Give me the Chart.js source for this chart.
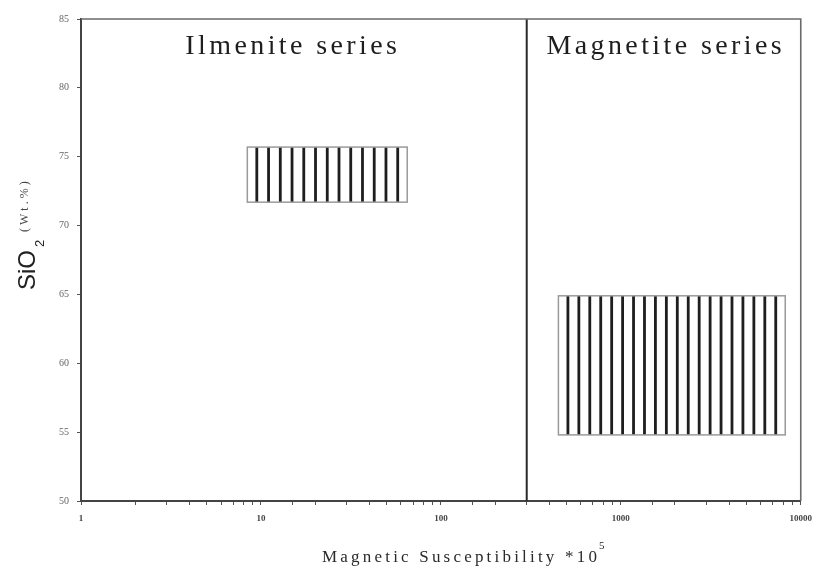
<!DOCTYPE html>
<html>
<head>
<meta charset="utf-8">
<script src="https://cdn.jsdelivr.net/npm/chart.js@4"></script>
<style>
  html, body { margin: 0; padding: 0; background: #fff; }
  #wrap { width: 820px; height: 570px; }
</style>
</head>
<body>
<div id="wrap"><canvas id="chart"></canvas></div>
<script>
// Серії та межа між ними
const seriesNames = ["Ilmenite series", "Magnetite series"];
const boundaryX = 300;

// Поля даних: межі прямокутників (x — логарифмічна вісь, y — SiO2)
const boxX0 = [8.4, 450];
const boxX1 = [65, 8200];
const boxY0 = [71.7, 54.8];
const boxY1 = [75.7, 64.9];

// Осі
const xRange = [1, 10000];
const yRange = [50, 85];
const yStep = 5;
const xTickLabels = [1, 10, 100, 1000, 10000];

const serif = "'Liberation Serif', 'Times New Roman', serif";

// Прямокутники з вертикальним штрихуванням
const hatchBoxes = {
    id: "hatchBoxes",
    beforeDatasetsDraw(chart, args, opts) {
        const ctx = chart.ctx;
        const xs = chart.scales.x, ys = chart.scales.y;
        boxX0.forEach((v, i) => {
            const left = xs.getPixelForValue(boxX0[i]);
            const right = xs.getPixelForValue(boxX1[i]);
            const top = ys.getPixelForValue(boxY1[i]);
            const bottom = ys.getPixelForValue(boxY0[i]);
            ctx.save();
            // штрихування
            const n = opts.hatchCount[i];
            const step = (right - left - 2 * opts.inset) / (n - 1);
            ctx.strokeStyle = "#1e1e1e";
            ctx.lineWidth = 2.8;
            ctx.beginPath();
            for (let k = 0; k < n; k++) {
                const x = left + opts.inset + k * step;
                ctx.moveTo(x, top);
                ctx.lineTo(x, bottom);
            }
            ctx.stroke();
            // рамка
            ctx.strokeStyle = "#9a9a9a";
            ctx.lineWidth = 1.5;
            ctx.strokeRect(left, top, right - left, bottom - top);
            ctx.restore();
        });
    }
};

// Рамка, підписи серій та назви осей
const decorations = {
    id: "decorations",
    afterDraw(chart) {
        const ctx = chart.ctx;
        const a = chart.chartArea;
        const xs = chart.scales.x;
        ctx.save();
        ctx.strokeStyle = "#6a6a6a";
        ctx.lineWidth = 1.6;
        ctx.beginPath();
        ctx.moveTo(a.left, a.top);
        ctx.lineTo(a.right, a.top);
        ctx.lineTo(a.right, a.bottom);
        ctx.stroke();

        // назви серій
        const bx = xs.getPixelForValue(boundaryX);
        ctx.fillStyle = "#1e1e1e";
        ctx.font = "28px " + serif;
        ctx.letterSpacing = "3.4px";
        ctx.textAlign = "center";
        ctx.textBaseline = "alphabetic";
        ctx.fillText(seriesNames[0], (a.left + bx) / 2 - 11, 54);
        ctx.fillText(seriesNames[1], (bx + a.right) / 2 + 2, 54);

        // підпис осі x
        ctx.font = "17px " + serif;
        ctx.letterSpacing = "3.2px";
        ctx.textAlign = "left";
        ctx.fillStyle = "#2a2a2a";
        ctx.fillText("Magnetic Susceptibility *10", 322, 562);
        ctx.font = "11px " + serif;
        ctx.letterSpacing = "0px";
        ctx.fillText("5", 599, 549);

        // підпис осі y (повернутий)
        ctx.translate(35, 290);
        ctx.rotate(-Math.PI / 2);
        ctx.fillStyle = "#222";
        ctx.font = "24px 'Liberation Sans', Arial, sans-serif";
        ctx.letterSpacing = "0px";
        ctx.fillText("SiO", 0, 0);
        ctx.font = "13px 'Liberation Sans', Arial, sans-serif";
        ctx.fillText("2", 43, 9);
        ctx.font = "12px " + serif;
        ctx.letterSpacing = "3px";
        ctx.fillStyle = "#444";
        ctx.fillText("(Wt.%)", 58, -7);
        ctx.restore();
    }
};

const ctx = document.getElementById("chart").getContext("2d");
new Chart(ctx, {
    type: "scatter",
    data: {
        datasets: [{
            // межа між серіями
            data: [{ x: boundaryX, y: yRange[0] }, { x: boundaryX, y: yRange[1] }],
            showLine: true,
            borderColor: "#2a2a2a",
            borderWidth: 2,
            pointRadius: 0
        }]
    },
    options: {
        responsive: true,
        maintainAspectRatio: false,
        animation: false,
        layout: { padding: { top: 19, right: 19, left: 0, bottom: 0 } },
        plugins: {
            legend: { display: false },
            tooltip: { enabled: false },
            hatchBoxes: { hatchCount: [13, 20], inset: 9.5 }
        },
        scales: {
            x: {
                type: "logarithmic",
                min: xRange[0],
                max: xRange[1],
                afterFit(scale) { scale.height = 69; },
                border: { display: true, color: "#444", width: 2 },
                grid: { drawOnChartArea: false, drawTicks: true, tickLength: 4, color: "#555" },
                ticks: {
                    autoSkip: false,
                    maxRotation: 0,
                    padding: 8,
                    color: "#444",
                    font: { family: serif, size: 9, weight: "bold" },
                    callback: v => xTickLabels.includes(v) ? String(v) : ""
                }
            },
            y: {
                min: yRange[0],
                max: yRange[1],
                afterFit(scale) { scale.width = 81; },
                border: { display: true, color: "#444", width: 2 },
                grid: { drawOnChartArea: false, drawTicks: true, tickLength: 4, color: "#555" },
                ticks: {
                    stepSize: yStep,
                    padding: 8,
                    color: "#666",
                    font: { family: serif, size: 10 }
                }
            }
        }
    },
    plugins: [hatchBoxes, decorations]
});
</script>
</body>
</html>
